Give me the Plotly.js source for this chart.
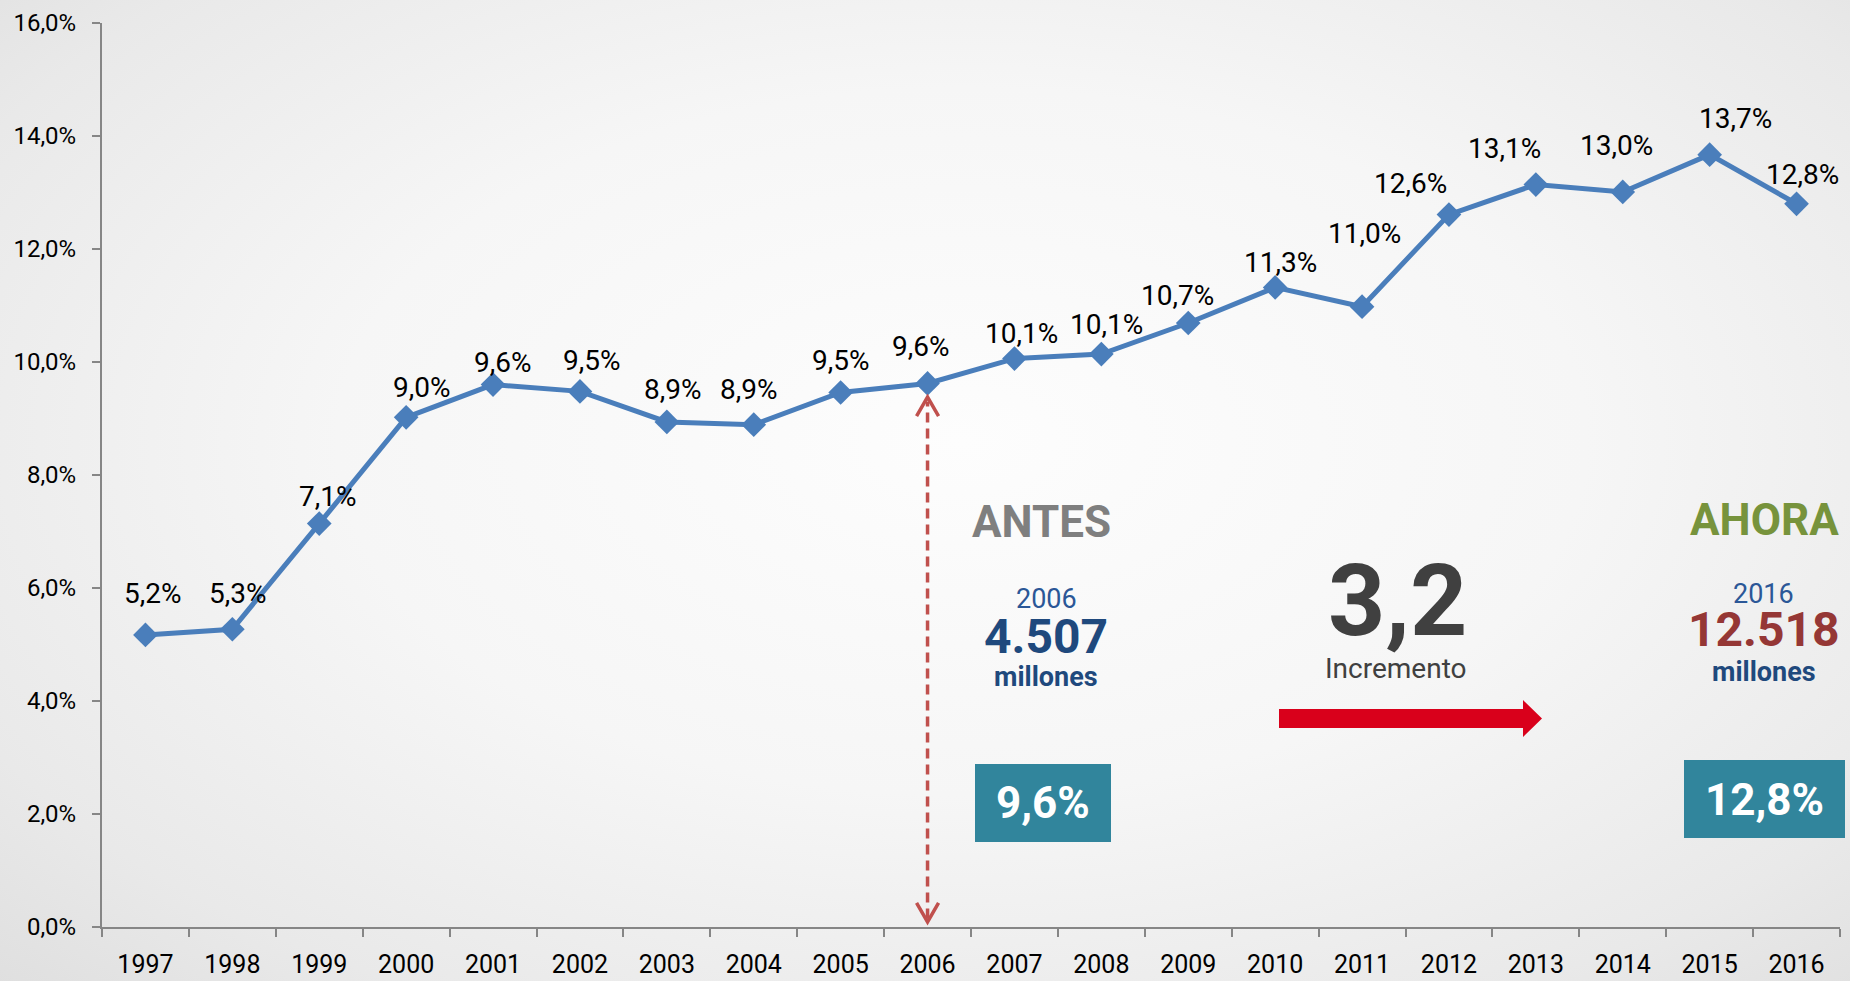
<!DOCTYPE html>
<html>
<head>
<meta charset="utf-8">
<script src="https://cdn.plot.ly/plotly-3.0.1.min.js"></script>
<style>
  html, body { margin: 0; padding: 0; }
  body {
    width: 1850px; height: 981px; overflow: hidden;
    background: radial-gradient(ellipse 75% 80% at 52% 45%, #fdfdfd 0%, #f6f6f6 45%, #e9e9e9 80%, #dedede 100%);
  }
  #chart { width: 1850px; height: 981px; }
</style>
</head>
<body>
<div id="chart"></div>
<script>
// ---- data ----
const years = ['1997','1998','1999','2000','2001','2002','2003','2004','2005','2006',
               '2007','2008','2009','2010','2011','2012','2013','2014','2015','2016'];
const shares = [5.17, 5.27, 7.14, 9.02, 9.60, 9.48, 8.94, 8.89, 9.46, 9.62,
                10.06, 10.14, 10.69, 11.32, 10.98, 12.61, 13.14, 13.01, 13.67, 12.80];
const yTicks = [0, 2, 4, 6, 8, 10, 12, 14, 16];

const antes = { label: 'ANTES', year: '2006', amount: '4.507', unit: 'millones', share: '9,6%' };
const ahora = { label: 'AHORA', year: '2016', amount: '12.518', unit: 'millones', share: '12,8%' };
const increment = { value: '3,2', label: 'Incremento' };

// label pixel nudges (dx right, dy up) as placed in the original
const labelNudge = [[8,41],[6,36],[9,27],[16,30],[10,22],[12,31],[6,32],[-5,35],[0,32],[-7,37],
                    [7,25],[5,30],[-11,28],[5,25],[2,73],[-38,31],[-31,36],[-6,46],[26,36],[6,29]];

// ---- layout helpers ----
const W = 1850, H = 981;
const M = { l: 102, r: 10, t: 23, b: 54 };
const PW = W - M.l - M.r, PH = H - M.t - M.b;
const px = x => (x - M.l) / PW;
const py = y => (H - M.b - y) / PH;

const FONT = 'Roboto, "Open Sans", sans-serif';
const AXIS = '#868686';
const LINE = '#4a7ebb';
const TEAL = '#31859c';
const RED = '#c0504d';

const fmt = v => v.toFixed(1).replace('.', ',') + '%';

const trace = {
  type: 'scatter', mode: 'lines+markers',
  x: years, y: shares,
  line: { color: LINE, width: 5 },
  marker: { symbol: 'diamond', size: 19, color: LINE },
  hoverinfo: 'skip', cliponaxis: false
};

const annotations = [];
years.forEach((yr, i) => {
  annotations.push({
    x: i, y: shares[i], xref: 'x', yref: 'y',
    text: fmt(shares[i]), showarrow: false,
    xanchor: 'center', yanchor: 'middle',
    xshift: labelNudge[i][0], yshift: labelNudge[i][1],
    font: { family: FONT, size: 28, color: '#000000' }
  });
});

function txt(x, y, text, size, color, bold) {
  annotations.push({
    x: px(x), y: py(y), xref: 'paper', yref: 'paper',
    text: bold ? '<b>' + text + '</b>' : text, showarrow: false,
    xanchor: 'center', yanchor: 'middle',
    font: { family: FONT, size: size, color: color }
  });
}

// ANTES block
txt(1041, 522, antes.label, 44, '#7f7f7f', true);
txt(1046, 599, antes.year, 27, '#2b5797', false);
txt(1046, 636, antes.amount, 48, '#1f497d', true);
txt(1046, 677, antes.unit, 27, '#1f497d', true);
txt(1043, 803, antes.share, 44, '#ffffff', true);

// AHORA block
txt(1764, 520, ahora.label, 44, '#77933c', true);
txt(1763, 594, ahora.year, 27, '#2b5797', false);
txt(1764, 629, ahora.amount, 48, '#953735', true);
txt(1764, 672, ahora.unit, 27, '#1f497d', true);
txt(1764, 800, ahora.share, 44, '#ffffff', true);

// Increment
txt(1397, 600, increment.value, 100, '#404040', true);
txt(1396, 668, increment.label, 28, '#404040', false);

const i2006 = years.indexOf(antes.year);
const shapes = [
  // teal boxes
  { type: 'rect', xref: 'paper', yref: 'paper', x0: px(975), x1: px(1111), y0: py(842), y1: py(764),
    fillcolor: TEAL, line: { width: 0 }, layer: 'below' },
  { type: 'rect', xref: 'paper', yref: 'paper', x0: px(1684), x1: px(1845), y0: py(838), y1: py(760),
    fillcolor: TEAL, line: { width: 0 }, layer: 'below' },
  // red block arrow
  { type: 'path', xref: 'paper', yref: 'paper',
    path: 'M ' + px(1279) + ',' + py(709) + ' L ' + px(1523) + ',' + py(709) + ' L ' + px(1523) + ',' + py(700) +
          ' L ' + px(1542) + ',' + py(718.5) + ' L ' + px(1523) + ',' + py(737) + ' L ' + px(1523) + ',' + py(728) +
          ' L ' + px(1279) + ',' + py(728) + ' Z',
    fillcolor: '#d9001b', line: { width: 0 } },
  // dashed double arrow at 2006
  { type: 'line', xref: 'x', yref: 'y', x0: i2006, x1: i2006, y0: 0.15, y1: 9.3,
    line: { color: RED, width: 3.5, dash: '10px,6px' } },
  { type: 'path', xref: 'x', yref: 'y', xsizemode: 'pixel', ysizemode: 'pixel',
    xanchor: i2006, yanchor: 9.38,
    path: 'M -11,-19 L 0,0 L 11,-19', line: { color: RED, width: 3.5 } },
  { type: 'path', xref: 'x', yref: 'y', xsizemode: 'pixel', ysizemode: 'pixel',
    xanchor: i2006, yanchor: 0.09,
    path: 'M -11,19 L 0,0 L 11,19', line: { color: RED, width: 3.5 } }
];

const layout = {
  width: W, height: H,
  margin: M,
  paper_bgcolor: 'rgba(0,0,0,0)', plot_bgcolor: 'rgba(0,0,0,0)',
  separators: ',.',
  showlegend: false,
  xaxis: {
    type: 'category', range: [-0.5, 19.5],
    showline: true, linecolor: AXIS, linewidth: 2,
    ticks: 'outside', tickson: 'boundaries', ticklen: 8, tickwidth: 2, tickcolor: AXIS,
    showgrid: false, zeroline: false,
    tickfont: { family: FONT, size: 25, color: '#000000' },
    ticklabelstandoff: 14
  },
  yaxis: {
    range: [0, 16], tickmode: 'array', tickvals: yTicks, ticktext: yTicks.map(fmt),
    showline: true, linecolor: AXIS, linewidth: 2,
    ticks: 'outside', ticklen: 8, tickwidth: 2, tickcolor: AXIS,
    showgrid: false, zeroline: false,
    tickfont: { family: FONT, size: 24, color: '#000000' },
    ticklabelstandoff: 11
  },
  annotations: annotations,
  shapes: shapes
};

Plotly.newPlot('chart', [trace], layout, { displayModeBar: false, staticPlot: true });
</script>
</body>
</html>
